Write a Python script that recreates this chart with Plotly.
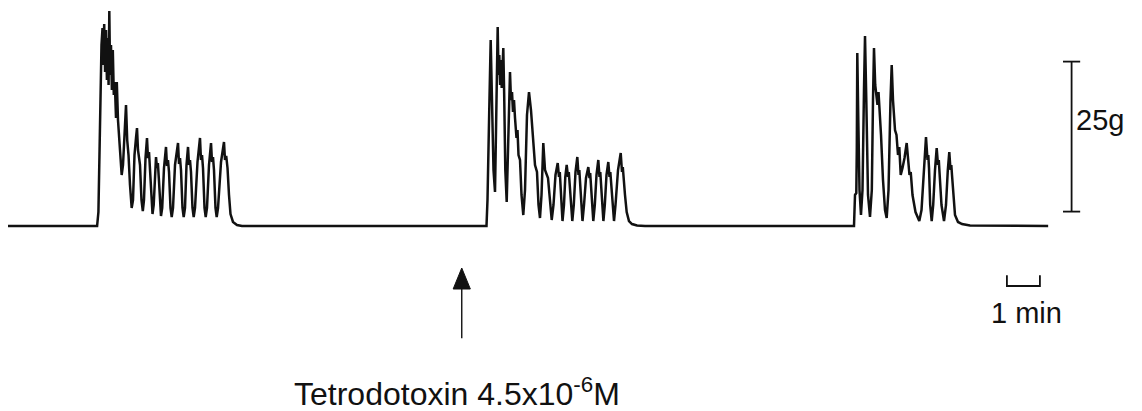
import plotly.graph_objects as go

# Isometric tension recording: three bursts of contractions, time in minutes, force in grams.
burst1_t = [2.70, 2.74, 2.79, 2.833, 2.864, 2.888, 2.915, 2.942, 2.970, 2.997, 3.024, 3.048, 3.070,
            3.094, 3.121, 3.148, 3.176, 3.206, 3.236, 3.273, 3.297, 3.333, 3.394, 3.445, 3.485, 3.530,
            3.576, 3.612, 3.652, 3.697, 3.748, 3.788, 3.833, 3.879, 3.909, 3.939, 4.000, 4.045, 4.085,
            4.121, 4.167, 4.212, 4.242, 4.273, 4.303, 4.348, 4.379, 4.415, 4.455, 4.485, 4.515, 4.542,
            4.570, 4.606, 4.636, 4.673, 4.727, 4.788, 4.818, 4.848, 4.879, 4.924, 4.961, 5.000, 5.061,
            5.152, 5.182, 5.212, 5.242, 5.288, 5.324, 5.364, 5.409, 5.455, 5.485, 5.515, 5.545, 5.591,
            5.627, 5.667, 5.742, 5.818, 5.848, 5.879, 5.909, 5.955, 5.991, 6.030, 6.091, 6.152, 6.182,
            6.212, 6.242, 6.288, 6.324, 6.364, 6.455, 6.545, 6.576, 6.612, 6.652, 6.697, 6.742, 6.818,
            6.939, 7.091]
burst1_g = [0.0, 2.33, 17.67, 30.17, 33.0, 26.83, 33.67, 25.67, 32.67, 24.33, 31.33, 23.5, 35.83,
            25.17, 30.17, 22.67, 29.33, 21.83, 24.0, 18.0, 24.0, 17.67, 12.67, 8.5, 10.17, 16.0,
            20.17, 14.33, 11.83, 6.83, 3.0, 4.33, 11.83, 14.67, 16.33, 12.67, 10.17, 4.33, 2.5,
            4.33, 11.33, 14.67, 11.33, 12.33, 9.0, 3.5, 2.0, 3.5, 9.67, 11.5, 9.67, 10.5,
            8.0, 3.0, 1.67, 3.0, 9.67, 13.17, 10.0, 11.0, 9.0, 3.0, 1.5, 3.0, 10.17,
            13.83, 10.33, 11.33, 9.33, 3.0, 1.5, 3.0, 10.17, 13.17, 10.17, 11.0, 9.0, 3.0,
            1.5, 3.0, 10.67, 14.67, 11.0, 11.83, 9.67, 3.0, 1.5, 3.0, 10.17, 13.83, 10.67,
            11.5, 9.33, 3.0, 1.5, 3.0, 10.67, 14.0, 11.0, 11.67, 9.67, 5.17, 2.0, 0.67,
            0.17, 0.0]

burst2_t = [14.500, 14.530, 14.561, 14.582, 14.627, 14.667, 14.712, 14.758, 14.788, 14.818, 14.839,
            14.864, 14.888, 14.912, 14.936, 14.961, 14.985, 15.009, 15.036, 15.070, 15.112, 15.152,
            15.182, 15.212, 15.242, 15.273, 15.303, 15.333, 15.364, 15.409, 15.439, 15.470, 15.515,
            15.561, 15.615, 15.667, 15.727, 15.788, 15.848, 15.879, 15.970, 16.030, 16.076, 16.121,
            16.167, 16.221, 16.273, 16.364, 16.424, 16.476, 16.530, 16.591, 16.658, 16.697, 16.721,
            16.742, 16.773, 16.803, 16.848, 16.888, 16.930, 16.970, 16.994, 17.015, 17.061, 17.100,
            17.145, 17.197, 17.252, 17.288, 17.312, 17.333, 17.370, 17.409, 17.455, 17.515, 17.585,
            17.621, 17.642, 17.661, 17.697, 17.736, 17.782, 17.833, 17.888, 17.924, 17.948, 17.970,
            18.006, 18.042, 18.085, 18.136, 18.191, 18.227, 18.252, 18.273, 18.318, 18.364, 18.409,
            18.485, 18.567, 18.606, 18.630, 18.652, 18.697, 18.748, 18.818, 18.909, 19.061, 19.303]
burst2_g = [0.0, 4.33, 16.0, 19.0, 31.0, 21.0, 9.33, 5.67, 14.33, 27.67, 33.17,
            25.17, 28.5, 23.5, 27.67, 23.0, 27.33, 29.67, 21.83, 9.33, 4.0, 12.67,
            22.67, 25.67, 21.0, 22.33, 19.0, 21.0, 18.0, 14.67, 16.0, 11.83, 11.0,
            5.17, 1.83, 6.0, 18.5, 22.33, 19.33, 17.33, 10.17, 9.0, 3.5, 1.33,
            5.17, 13.83, 9.33, 8.0, 3.5, 1.0, 3.5, 8.5, 10.5, 8.17, 9.0,
            7.17, 3.5, 0.83, 3.5, 8.17, 10.17, 8.17, 9.0, 7.33, 3.5, 0.83,
            3.5, 9.0, 11.5, 8.5, 9.33, 7.67, 3.5, 0.83, 3.5, 8.0, 9.83,
            8.0, 8.83, 7.33, 3.5, 0.83, 3.5, 8.5, 11.0, 8.17, 9.0, 7.33,
            3.5, 0.83, 3.5, 8.5, 10.67, 8.17, 9.0, 7.33, 3.5, 0.83, 3.5,
            9.33, 12.17, 9.0, 9.83, 8.0, 5.17, 2.33, 0.83, 0.33, 0.08, 0.0]

burst3_t = [25.636, 25.667, 25.706, 25.721, 25.736, 25.767, 25.803, 25.848, 25.894, 25.939, 25.970,
            26.009, 26.061, 26.121, 26.176, 26.212, 26.242, 26.279, 26.318, 26.348, 26.379, 26.418,
            26.455, 26.515, 26.576, 26.627, 26.682, 26.742, 26.779, 26.818, 26.848, 26.879, 26.924,
            26.970, 27.009, 27.052, 27.106, 27.167, 27.233, 27.273, 27.318, 27.355, 27.409, 27.500,
            27.615, 27.682, 27.758, 27.818, 27.864, 27.888, 27.909, 27.945, 27.991, 28.036, 28.091,
            28.142, 28.182, 28.206, 28.227, 28.288, 28.364, 28.424, 28.479, 28.524, 28.561, 28.585,
            28.606, 28.652, 28.697, 28.788, 28.909, 29.152]
burst3_g = [0.0, 5.17, 5.5, 12.67, 28.83, 17.67, 6.0, 1.83, 6.0, 22.67, 31.67,
            21.0, 5.17, 1.5, 6.0, 21.0, 29.67, 23.5, 21.83, 20.17, 22.33, 19.33,
            15.17, 7.67, 2.67, 1.33, 6.0, 21.0, 26.83, 21.0, 19.0, 16.0, 15.17,
            11.83, 13.17, 8.5, 9.67, 11.33, 13.83, 10.5, 8.5, 9.0, 5.17, 2.33,
            0.83, 2.67, 10.17, 14.83, 11.0, 11.83, 9.67, 3.5, 0.83, 3.5, 9.33,
            13.0, 10.17, 11.0, 9.0, 3.5, 0.83, 3.5, 9.33, 12.33, 9.33, 10.17,
            8.5, 4.33, 1.83, 0.67, 0.33, 0.08]

record_start_min = 0.0
record_end_min = 31.52

# Calibration and annotation settings
force_bar_g = 25.0
force_bar_base_g = 2.4
force_bar_t = 32.23
time_bar_min = 1.0
time_bar_start = 30.27
ttx_time_min = 13.75
ttx_label = "Tetrodotoxin 4.5x10<sup>-6</sup>M"

t_all = [record_start_min] + burst1_t + burst2_t + burst3_t + [record_end_min]
g_all = [0.0] + burst1_g + burst2_g + burst3_g + [0.0]

FONT = "Liberation Sans, Arial, Helvetica, sans-serif"
INK = "#111111"

fig = go.Figure()
fig.add_trace(go.Scatter(x=t_all, y=g_all, mode="lines",
                         line=dict(color=INK, width=2.5), hoverinfo="skip", showlegend=False))

shapes = []
# 25 g calibration bar with end caps
cap = 0.26
shapes.append(dict(type="line", xref="x", yref="y", x0=force_bar_t, x1=force_bar_t,
                   y0=force_bar_base_g, y1=force_bar_base_g + force_bar_g, line=dict(color=INK, width=1.8)))
for yv in (force_bar_base_g, force_bar_base_g + force_bar_g):
    shapes.append(dict(type="line", xref="x", yref="y", x0=force_bar_t - cap, x1=force_bar_t + cap,
                       y0=yv, y1=yv, line=dict(color=INK, width=1.8)))

# 1 min time bracket
tb_low, tb_high = -10.0, -8.2
shapes.append(dict(type="path", xref="x", yref="y",
                   path=f"M {time_bar_start},{tb_high} L {time_bar_start},{tb_low} "
                        f"L {time_bar_start + time_bar_min},{tb_low} L {time_bar_start + time_bar_min},{tb_high}",
                   line=dict(color=INK, width=1.8)))

# Drug application arrow
arrow_tip, arrow_base, arrow_tail = -7.0, -10.5, -18.7
shapes.append(dict(type="line", xref="x", yref="y", x0=ttx_time_min, x1=ttx_time_min,
                   y0=arrow_base, y1=arrow_tail, line=dict(color=INK, width=1.4)))
shapes.append(dict(type="path", xref="x", yref="y",
                   path=f"M {ttx_time_min},{arrow_tip} L {ttx_time_min - 0.26},{arrow_base} "
                        f"L {ttx_time_min + 0.26},{arrow_base} Z",
                   fillcolor=INK, line=dict(color=INK, width=1)))

annotations = [
    dict(x=force_bar_t + 0.07, y=17.6, xref="x", yref="y",
         text="25g", showarrow=False, xanchor="left", yanchor="middle",
         font=dict(family=FONT, size=29, color=INK)),
    dict(x=30.86, y=-14.5, xref="x", yref="y",
         text="1 min", showarrow=False, xanchor="center", yanchor="middle",
         font=dict(family=FONT, size=29, color=INK)),
    dict(x=13.62, y=-27.6, xref="x", yref="y",
         text=ttx_label, showarrow=False, xanchor="center", yanchor="middle",
         font=dict(family=FONT, size=32, color=INK)),
]

fig.update_layout(
    width=1142, height=411,
    margin=dict(l=0, r=0, t=0, b=0),
    paper_bgcolor="white", plot_bgcolor="white",
    xaxis=dict(range=[-8 / 33, 1134 / 33], visible=False, fixedrange=True),
    yaxis=dict(range=[-185 / 6, 226 / 6], visible=False, fixedrange=True),
    shapes=shapes, annotations=annotations,
)

fig.write_html("out.html")
